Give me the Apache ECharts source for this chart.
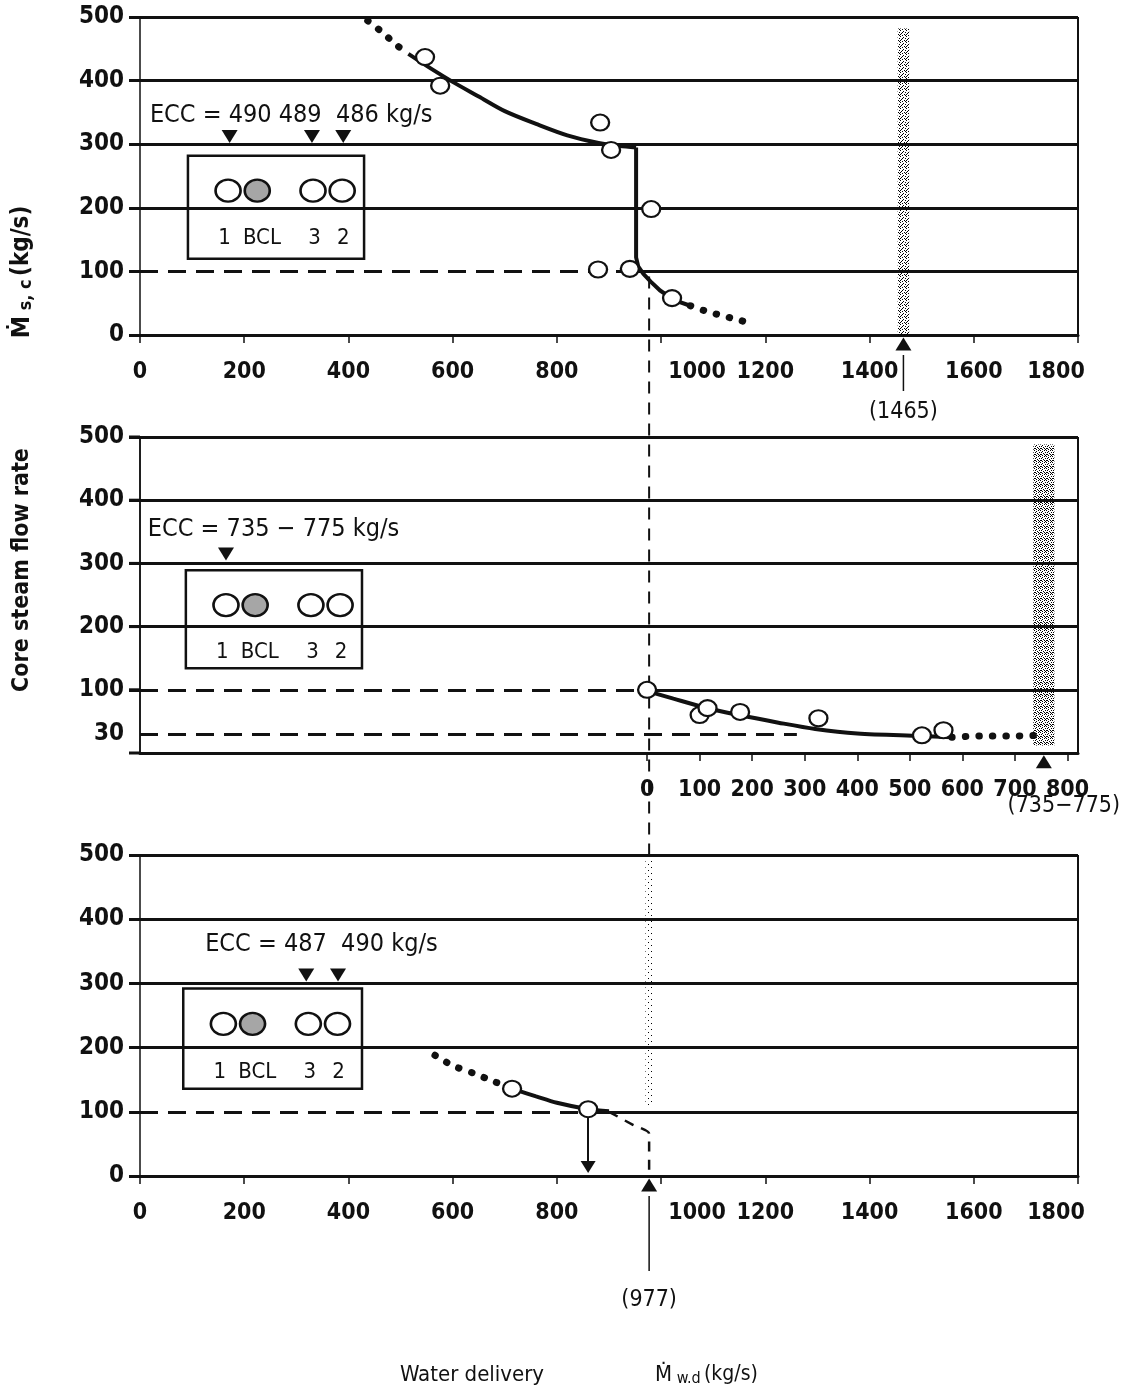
<!DOCTYPE html>
<html>
<head>
<meta charset="utf-8">
<script src="https://cdn.jsdelivr.net/npm/echarts@6.0.0/dist/echarts.min.js"></script>
<style>
  html, body { margin: 0; padding: 0; background: #fff; }
  #chart { width: 1129px; height: 1395px; }
</style>
</head>
<body>
<div id="chart"></div>
<script>
// ---- values (kg/s) ----
// top panel
const topCircleX = [547, 576, 883, 904, 981, 879, 940, 1021];
const topCircleY = [437, 392, 334, 291, 198, 103, 104, 58];
const topHeadX = [437, 465, 492, 515];
const topHeadY = [494, 476, 456, 442];
const topUpperX = [515, 560, 600, 650, 700, 760, 820, 880, 920, 952];
const topUpperY = [442, 418, 398, 375, 352, 332, 314, 302, 297, 295];
const topLowerX = [952, 952, 956, 966, 980, 998, 1025, 1056];
const topLowerY = [295, 122, 108, 96, 84, 70, 55, 46];
const topTailX = [1056, 1084, 1110, 1138, 1165];
const topTailY = [46, 38, 32, 26, 20];
const topEcc = [172, 330, 390];
const topEccText = 'ECC = 490 489  486 kg/s';
const topMark = 1465;

// middle panel (axis counted from the 977 kg/s point)
const midCircleX = [0, 100, 115, 177, 326, 523, 564];
const midCircleY = [100, 60, 71, 65, 55, 28, 36];
const midCurveX = [0, 50, 110, 175, 250, 320, 400, 520, 580];
const midCurveY = [98, 86, 72, 60, 48, 38, 31, 27, 25];
const midTailX = [580, 640, 700, 750];
const midTailY = [25, 27, 27, 28];
const midEcc = [165];
const midEccText = 'ECC = 735 \u2212 775 kg/s';
const midBand = [735, 775];
const midMark = 755;

// bottom panel
const botCircleX = [714, 860];
const botCircleY = [136, 104];
const botHeadX = [566, 600, 640, 680, 714];
const botHeadY = [188, 172, 160, 147, 136];
const botCurveX = [714, 760, 800, 860, 900];
const botCurveY = [136, 124, 114, 104, 101];
const botTailX = [900, 945, 977, 977];
const botTailY = [100, 80, 66, 0];
const botEcc = [319, 380];
const botEccText = 'ECC = 487  490 kg/s';
const deliveryMark = 977;

// ticks
const xTicks = [0, 200, 400, 600, 800, 1000, 1200, 1400, 1600, 1800];
const midXTicks = [0, 100, 200, 300, 400, 500, 600, 700, 800];
const yTicks = [0, 100, 200, 300, 400, 500];
const midYLabels = [0, 30, 100, 200, 300, 400, 500];
const levels = [200, 300, 400, 500];
const loopNames = ['1', 'BCL', '3', '2'];

// ---- styling ----
const BLACK = '#111';
const FONT = "'DejaVu Sans Condensed', 'Liberation Sans Narrow', sans-serif";
const DASH = [18, 10];
const MID_MIN = -965;
const MID_MAX = 820;

function stipple(dots) {
  const c = document.createElement('canvas');
  c.width = c.height = 6;
  const g = c.getContext('2d');
  g.fillStyle = '#000';
  dots.forEach(d => g.fillRect(d[0], d[1], 1, 1));
  return {image: c, repeat: 'repeat'};
}
const lightDots = stipple([[0, 0], [3, 1], [1, 3], [4, 4], [2, 5], [5, 2], [2, 2], [5, 5], [0, 4]]);
const darkDots = stipple([[0, 0], [2, 0], [4, 1], [1, 2], [3, 2], [5, 3], [0, 4], [2, 4], [4, 5], [1, 5], [3, 4]]);
const sparseDots = stipple([[0, 0], [3, 3]]);

const pairs = (xs, ys) => xs.map((x, i) => [x, ys[i]]);
const on = (xi, yi) => ({xAxisIndex: xi, yAxisIndex: yi});

function xAxisOf(gridIndex, min, max, ticks) {
  const rich = (pad) => ({padding: pad, fontFamily: FONT, fontSize: 23, fontWeight: 'bold', color: BLACK});
  return {
    type: 'value', gridIndex, min, max, position: 'bottom',
    splitLine: {show: false},
    axisLine: {show: true, onZero: false, lineStyle: {color: BLACK, width: 3}},
    axisTick: {show: true, customValues: ticks, length: 8, lineStyle: {color: BLACK, width: 1.5}},
    axisLabel: {
      customValues: ticks, margin: 26, color: BLACK, fontFamily: FONT, fontSize: 23, fontWeight: 'bold',
      formatter: v => v === 1000 ? '{s|1000}' : v === 1800 ? '{e|1800}' : String(v),
      rich: {s: rich([0, 0, 0, 72]), e: rich([0, 44, 0, 0])}
    }
  };
}

function yAxisOf(gridIndex, labels) {
  return {
    type: 'value', gridIndex, min: 0, max: 500, position: 'left',
    splitLine: {show: false},
    axisLine: {show: true, onZero: false, lineStyle: {color: BLACK, width: 1.5}},
    axisTick: {show: true, customValues: yTicks, length: 11, lineStyle: {color: BLACK, width: 3}},
    axisLabel: {customValues: labels, margin: 16, color: BLACK, fontFamily: FONT, fontSize: 24, fontWeight: 'bold'}
  };
}

function hLine(x0, x1, y, dashed) {
  return [{coord: [x0, y], lineStyle: {color: BLACK, width: 3, type: dashed ? DASH : 'solid'}}, {coord: [x1, y]}];
}

function frame(xi, yi, lines) {
  return {
    type: 'line', ...on(xi, yi), data: [], z: 1, silent: true,
    markLine: {silent: true, symbol: ['none', 'none'], label: {show: false}, animation: false, data: lines}
  };
}

function band(xi, yi, x0, x1, y0, y1, fill) {
  return {
    type: 'line', ...on(xi, yi), data: [], z: 0, silent: true,
    markArea: {silent: true, animation: false, data: [[{coord: [x0, y0], itemStyle: {color: fill, opacity: 1}}, {coord: [x1, y1]}]]}
  };
}

function solid(xi, yi, xs, ys, smooth) {
  return {type: 'line', ...on(xi, yi), data: pairs(xs, ys), showSymbol: false, smooth: smooth || 0,
    z: 5, silent: true, lineStyle: {color: BLACK, width: 4}};
}

function dotted(xi, yi, xs, ys) {
  return {type: 'line', ...on(xi, yi), data: pairs(xs, ys), showSymbol: false, smooth: 0.3,
    z: 5, silent: true, lineStyle: {color: BLACK, width: 7, type: [0.5, 13], cap: 'round'}};
}

function circles(xi, yi, xs, ys) {
  return {type: 'scatter', ...on(xi, yi), data: pairs(xs, ys), symbol: 'circle', symbolSize: [18, 16],
    z: 6, silent: true, itemStyle: {color: '#fff', borderColor: BLACK, borderWidth: 2.2, opacity: 1}};
}

function triangles(xi, yi, xs, y, down, size) {
  return {type: 'scatter', ...on(xi, yi), data: xs.map(x => [x, y]), symbol: 'triangle',
    symbolRotate: down ? 180 : 0, symbolSize: size || [16, 13], clip: false, z: 6, silent: true,
    itemStyle: {color: BLACK, opacity: 1}};
}

function note(xi, yi, x, y, text) {
  return {type: 'scatter', ...on(xi, yi), data: [[x, y]], symbolSize: 0, z: 7, silent: true,
    itemStyle: {opacity: 1},
    label: {show: true, position: 'right', distance: 0, formatter: text, color: BLACK,
      fontFamily: FONT, fontSize: 25}};
}

// loop-arrangement inset: white box, four loop circles (broken loop shaded), names
function inset(xi, yi, left, right, bottom, top) {
  const cx = [77, 133, 240, 296].map(d => left + d);
  const lx = [70, 142, 243, 298].map(d => left + d);
  const cy = top - 55;
  const ly = top - 130;
  return [
    {
      type: 'line', ...on(xi, yi), data: [], z: 3, silent: true,
      markArea: {silent: true, animation: false, data: [[
        {coord: [left, bottom], itemStyle: {color: '#fff', borderColor: BLACK, borderWidth: 2.5, opacity: 1}},
        {coord: [right, top]}
      ]]}
    },
    {
      type: 'scatter', ...on(xi, yi), z: 6, silent: true, symbol: 'circle', symbolSize: [25, 22],
      data: cx.map((x, i) => ({value: [x, cy], itemStyle: i === 1 ? {color: '#a6a6a6'} : {}})),
      itemStyle: {color: '#fff', borderColor: BLACK, borderWidth: 2.5, opacity: 1}
    },
    {
      type: 'scatter', ...on(xi, yi), z: 6, silent: true, symbolSize: 0, itemStyle: {opacity: 1},
      data: lx.map((x, i) => [x, ly, loopNames[i]]),
      label: {show: true, position: 'inside', formatter: p => p.value[2], color: BLACK,
        fontFamily: FONT, fontSize: 22}
    }
  ];
}

const chart = echarts.init(document.getElementById('chart'));

const option = {
  animation: false,
  backgroundColor: '#fff',
  grid: [
    {left: 140, right: 51, top: 17, height: 318},
    {left: 140, right: 51, top: 437, height: 316},
    {left: 140, right: 51, top: 855, height: 321}
  ],
  xAxis: [
    xAxisOf(0, 0, 1800, xTicks),
    xAxisOf(1, MID_MIN, MID_MAX, midXTicks),
    {type: 'value', gridIndex: 1, min: 0, max: 1800, show: false, position: 'bottom'},
    xAxisOf(2, 0, 1800, xTicks)
  ],
  yAxis: [yAxisOf(0, yTicks), yAxisOf(1, midYLabels), yAxisOf(2, yTicks)],
  series: [
    // ---- top ----
    band(0, 0, topMark - 11, topMark + 11, 0, 482, lightDots),
    frame(0, 0, [
      ...levels.map(v => hLine(0, 1800, v, false)),
      hLine(0, 952, 100, true),
      hLine(952, 1800, 100, false),
      [{coord: [1800, 0], lineStyle: {color: BLACK, width: 2, type: 'solid'}}, {coord: [1800, 500]}]
    ]),
    ...inset(0, 0, 92, 430, 120, 282),
    dotted(0, 0, topHeadX, topHeadY),
    solid(0, 0, topUpperX, topUpperY, 0.3),
    solid(0, 0, topLowerX, topLowerY, 0),
    dotted(0, 0, topTailX, topTailY),
    circles(0, 0, topCircleX, topCircleY),
    triangles(0, 0, topEcc, 312, true),
    note(0, 0, 19, 345, topEccText),
    triangles(0, 0, [topMark], -14, false),

    // ---- middle ----
    band(1, 1, midBand[0], midBand[1], 12, 488, darkDots),
    frame(1, 1, [
      ...levels.map(v => hLine(MID_MIN, MID_MAX, v, false)),
      hLine(MID_MIN, 0, 100, true),
      hLine(0, MID_MAX, 100, false),
      hLine(MID_MIN, 285, 30, true),
      [{coord: [MID_MAX, 0], lineStyle: {color: BLACK, width: 2, type: 'solid'}}, {coord: [MID_MAX, 500]}]
    ]),
    ...inset(2, 1, 88, 426, 134, 289),
    solid(1, 1, midCurveX, midCurveY, 0.3),
    dotted(1, 1, midTailX, midTailY),
    circles(1, 1, midCircleX, midCircleY),
    triangles(2, 1, midEcc, 315, true),
    note(2, 1, 15, 353, midEccText),
    triangles(1, 1, [midMark], -14, false),

    // ---- bottom ----
    band(3, 2, deliveryMark - 7, deliveryMark + 7, 108, 492, sparseDots),
    frame(3, 2, [
      ...levels.map(v => hLine(0, 1800, v, false)),
      hLine(0, 860, 100, true),
      hLine(860, 1800, 100, false),
      [{coord: [1800, 0], lineStyle: {color: BLACK, width: 2, type: 'solid'}}, {coord: [1800, 500]}],
      [{coord: [860, 95], lineStyle: {color: BLACK, width: 2, type: 'solid'}}, {coord: [860, 20]}]
    ]),
    ...inset(3, 2, 83, 426, 136, 292),
    dotted(3, 2, botHeadX, botHeadY),
    solid(3, 2, botCurveX, botCurveY, 0.3),
    {type: 'line', ...on(3, 2), data: pairs(botTailX, botTailY), showSymbol: false, smooth: 0.2, z: 5,
      silent: true, lineStyle: {color: BLACK, width: 2.5, type: [10, 8]}},
    circles(3, 2, botCircleX, botCircleY),
    triangles(3, 2, [860], 14, true, [15, 12]),
    triangles(3, 2, botEcc, 313, true),
    note(3, 2, 125, 361, botEccText),
    triangles(3, 2, [deliveryMark], -14, false)
  ]
};

chart.setOption(option);

// annotations outside the plot areas, placed through the axes' own scales
const pTop = chart.convertToPixel(on(0, 0), [deliveryMark, 92]);
const pBot = chart.convertToPixel(on(3, 2), [deliveryMark, 500]);
const pBot0 = chart.convertToPixel(on(3, 2), [deliveryMark, 0]);
const pMark = chart.convertToPixel(on(0, 0), [topMark, 0]);
const pBand = chart.convertToPixel(on(1, 1), [midMark, 0]);
const pMidLo = chart.convertToPixel(on(1, 1), [MID_MIN, 0]);
const pMidHi = chart.convertToPixel(on(1, 1), [MID_MIN, 500]);

const txt = (x, y, text, size) => ({
  type: 'text', x, y, z: 8, silent: true,
  style: {text, fill: BLACK, font: `${size}px ${FONT}`, align: 'center', verticalAlign: 'middle'}
});

// left edge of the middle panel with its outward level stubs
const midEdge = [
  {type: 'line', z: 4, silent: true, shape: {x1: pMidLo[0], y1: pMidLo[1], x2: pMidHi[0], y2: pMidHi[1]},
    style: {stroke: BLACK, lineWidth: 1.5}},
  ...yTicks.map(v => {
    const p = chart.convertToPixel(on(1, 1), [MID_MIN, v]);
    return {type: 'line', z: 4, silent: true, shape: {x1: p[0] - 11, y1: p[1], x2: p[0], y2: p[1]},
      style: {stroke: BLACK, lineWidth: 3}};
  })
];

chart.setOption({
  graphic: [
    ...midEdge,
    {type: 'line', z: 4, silent: true, shape: {x1: pTop[0], y1: pTop[1], x2: pBot[0], y2: pBot[1]},
      style: {stroke: BLACK, lineWidth: 2, lineDash: [12, 9]}},
    {type: 'line', z: 4, silent: true, shape: {x1: pBot0[0], y1: pBot0[1] + 20, x2: pBot0[0], y2: pBot0[1] + 95},
      style: {stroke: BLACK, lineWidth: 1.5}},
    txt(pBot0[0], pBot0[1] + 124, '(977)', 23),
    {type: 'line', z: 4, silent: true, shape: {x1: pMark[0], y1: pMark[1] + 20, x2: pMark[0], y2: pMark[1] + 56},
      style: {stroke: BLACK, lineWidth: 1.5}},
    txt(pMark[0], pMark[1] + 77, '(1465)', 23),
    txt(pBand[0] + 20, pBand[1] + 53, '(735\u2212775)', 23),
    {
      type: 'text', x: 22, y: 570, rotation: Math.PI / 2, silent: true,
      style: {text: 'Core steam flow rate', fill: BLACK, font: `bold 23px ${FONT}`, align: 'center', verticalAlign: 'middle'}
    },
    {
      type: 'text', x: 22, y: 272, rotation: Math.PI / 2, silent: true,
      style: {
        text: '{m|\u1E40}{s| s, c} {n|(kg/s)}', align: 'center', verticalAlign: 'middle',
        rich: {
          m: {font: `bold 25px ${FONT}`, fill: BLACK},
          s: {font: `bold 18px ${FONT}`, fill: BLACK, padding: [8, 0, 0, 0]},
          n: {font: `bold 24px ${FONT}`, fill: BLACK}
        }
      }
    },
    txt(472, 1375, 'Water delivery', 22),
    {
      type: 'text', x: 655, y: 1375, silent: true,
      style: {
        text: '{m|\u1E40}{s| w.d} {n|(kg/s)}', align: 'left', verticalAlign: 'middle',
        rich: {
          m: {font: `22px ${FONT}`, fill: BLACK},
          s: {font: `16px ${FONT}`, fill: BLACK, padding: [8, 0, 0, 0]},
          n: {font: `21px ${FONT}`, fill: BLACK}
        }
      }
    }
  ]
});
</script>
</body>
</html>
